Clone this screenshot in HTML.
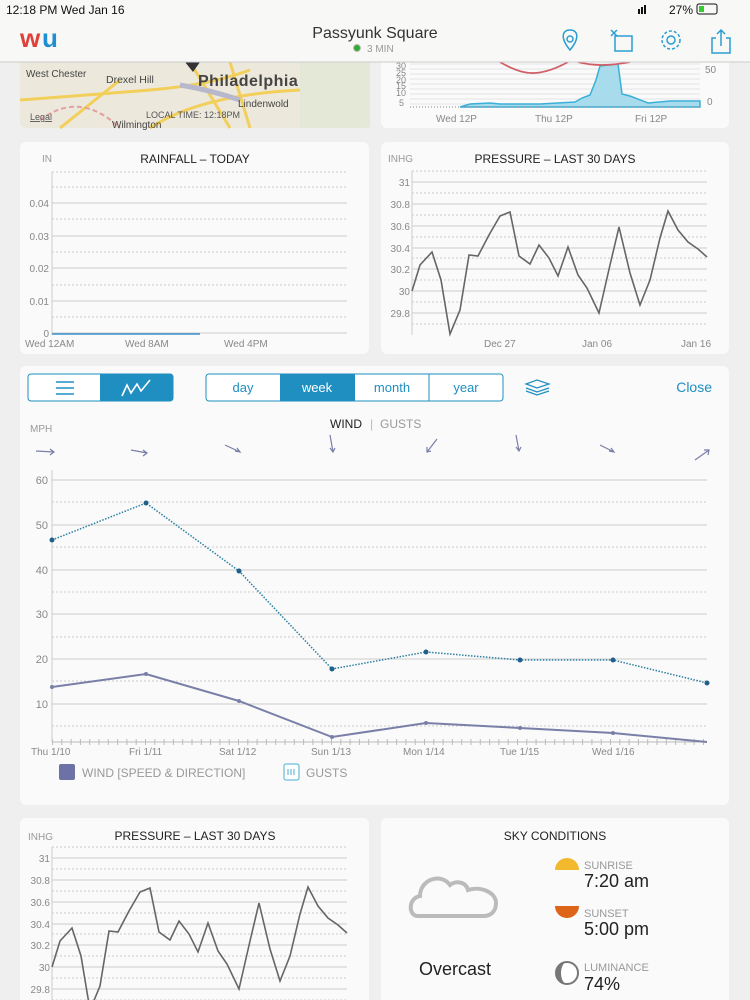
<!DOCTYPE html>
<html><head><meta charset="utf-8"><style>
html,body{margin:0;padding:0;background:#efefef;}
svg{display:block;font-family:"Liberation Sans",sans-serif;}
</style></head><body>
<svg width="750" height="1000" viewBox="0 0 750 1000" xmlns="http://www.w3.org/2000/svg">
<rect width="750" height="1000" fill="#efefef"/>
<!-- map card -->
<rect x="20" y="50" width="350" height="78" rx="6" fill="#ece8dc"/>
<g stroke="#f2cf5a" stroke-width="3" fill="none">
<path d="M20 100 Q90 95 150 90 T250 70"/><path d="M190 62 L230 128"/><path d="M230 62 L250 128"/><path d="M150 128 Q200 95 300 90"/><path d="M60 128 L120 80"/>
</g>
<path d="M40 120 Q80 90 120 128" stroke="#e4a0a0" stroke-width="2" stroke-dasharray="5 3" fill="none"/>
<path d="M180 85 Q210 90 240 100" stroke="#b7b8cc" stroke-width="5" fill="none"/>
<rect x="300" y="62" width="70" height="66" fill="#dfe8d4" opacity="0.6"/>
<text x="26" y="77" font-size="10" fill="#444">West Chester</text>
<text x="106" y="83" font-size="10.5" fill="#444">Drexel Hill</text>
<text x="198" y="86" font-size="16" font-weight="bold" fill="#444" letter-spacing="0.5">Philadelphia</text>
<text x="238" y="107" font-size="10" fill="#444">Lindenwold</text>
<text x="30" y="120" font-size="9" fill="#555" text-decoration="underline">Legal</text>
<text x="146" y="118" font-size="9" fill="#555">LOCAL TIME: 12:18PM</text>
<text x="112" y="128" font-size="10" fill="#444">Wilmington</text>
<path d="M185 62 L200 62 L193 72Z" fill="#333"/>
<!-- top right card -->
<rect x="381" y="50" width="348" height="78" rx="6" fill="#fafafa"/>
<g stroke="#ddd" stroke-width="0.7">
<line x1="410" y1="64" x2="700" y2="64"/><line x1="410" y1="69" x2="700" y2="69"/><line x1="410" y1="74" x2="700" y2="74"/><line x1="410" y1="79" x2="700" y2="79"/><line x1="410" y1="84" x2="700" y2="84"/><line x1="410" y1="89" x2="700" y2="89"/><line x1="410" y1="94" x2="700" y2="94"/><line x1="410" y1="99" x2="700" y2="99"/><line x1="410" y1="104" x2="700" y2="104"/>
</g>
<path d="M460 107 L470 104 L490 103 L500 104 L540 104 L575 102 L582 98 L590 95 L596 80 L600 66 L618 64 L622 94 L630 96 L648 103 L670 101 L700 101 L700 107Z" fill="#a8dcec" stroke="#3ab0d8" stroke-width="1.5"/>
<path d="M500 62 Q520 74 535 73 Q550 72 568 62 M578 62 Q600 68 630 62" stroke="#d06068" stroke-width="1.8" fill="none"/>
<line x1="410" y1="107" x2="700" y2="107" stroke="#888" stroke-dasharray="1 2"/>
<text x="396" y="69" font-size="9" fill="#888">30</text><text x="396" y="76" font-size="9" fill="#888">25</text><text x="396" y="83" font-size="9" fill="#888">20</text><text x="396" y="89" font-size="9" fill="#888">15</text><text x="396" y="96" font-size="9" fill="#888">10</text><text x="399" y="106" font-size="9" fill="#888">5</text>
<text x="705" y="73" font-size="10" fill="#888">50</text><text x="707" y="105" font-size="10" fill="#888">0</text>
<text x="436" y="122" font-size="10" fill="#888">Wed 12P</text><text x="535" y="122" font-size="10" fill="#888">Thu 12P</text><text x="635" y="122" font-size="10" fill="#888">Fri 12P</text>
<!-- status + header -->
<rect x="0" y="0" width="750" height="62" fill="#f8f8f7"/>
<line x1="0" y1="62" x2="750" y2="62" stroke="#ccc"/>
<text x="6" y="14" font-size="12" fill="#111">12:18 PM   Wed Jan 16</text>
<text x="693" y="14" font-size="12" fill="#111" text-anchor="end">27%</text>
<rect x="697" y="4" width="20" height="10" rx="2" fill="none" stroke="#111"/><rect x="699" y="6" width="5" height="6" fill="#3c3"/>
<g fill="#111"><rect x="638" y="9" width="2" height="5"/><rect x="641" y="7" width="2" height="7"/><rect x="644" y="5" width="2" height="9"/></g>
<text x="20" y="47" font-size="26" font-weight="bold" fill="#e0403a">w</text><text x="42" y="47" font-size="26" font-weight="bold" fill="#1e8fd0">u</text>
<text x="375" y="38" font-size="16" fill="#333" text-anchor="middle">Passyunk Square</text>
<circle cx="357" cy="48" r="3.5" fill="#3a3" stroke="#bbb"/>
<text x="367" y="52" font-size="10" fill="#999">3 MIN</text>
<g stroke="#2a9ed0" stroke-width="1.5" fill="none">
<path d="M570 50 C560 38 562 30 570 30 C578 30 580 38 570 50Z"/><circle cx="570" cy="39" r="3"/>
<rect x="615" y="36" width="17" height="15"/><path d="M611 30 L617 36 M617 30 L611 36"/>
<circle cx="671" cy="40" r="9" stroke-dasharray="3 2"/><circle cx="671" cy="40" r="4"/>
<path d="M716 38 L712 38 L712 53 L730 53 L730 38 L726 38 M721 30 L721 46 M717 34 L721 30 L725 34"/>
</g>
<!-- rainfall card -->
<rect x="20" y="142" width="349" height="212" rx="6" fill="#fafafa"/>
<text x="42" y="162" font-size="10" fill="#999">IN</text>
<text x="195" y="163" font-size="12" fill="#222" text-anchor="middle">RAINFALL – TODAY</text>
<g stroke="#ccc" stroke-width="1"><line x1="52" y1="203" x2="347" y2="203"/><line x1="52" y1="236" x2="347" y2="236"/><line x1="52" y1="268" x2="347" y2="268"/><line x1="52" y1="301" x2="347" y2="301"/><line x1="52" y1="333" x2="347" y2="333"/></g>
<g stroke="#ccc" stroke-dasharray="2 2"><line x1="52" y1="187" x2="347" y2="187"/><line x1="52" y1="219" x2="347" y2="219"/><line x1="52" y1="252" x2="347" y2="252"/><line x1="52" y1="285" x2="347" y2="285"/><line x1="52" y1="317" x2="347" y2="317"/><line x1="52" y1="172" x2="347" y2="172"/></g>
<line x1="52" y1="172" x2="52" y2="335" stroke="#ccc"/>
<line x1="52" y1="334" x2="200" y2="334" stroke="#3a90c8" stroke-width="1.5"/>
<g font-size="10" fill="#888" text-anchor="end"><text x="49" y="207">0.04</text><text x="49" y="240">0.03</text><text x="49" y="272">0.02</text><text x="49" y="305">0.01</text><text x="49" y="337">0</text></g>
<g font-size="10" fill="#888"><text x="25" y="347">Wed 12AM</text><text x="125" y="347">Wed 8AM</text><text x="224" y="347">Wed 4PM</text></g>
<!-- pressure top -->
<rect x="381" y="142" width="348" height="212" rx="6" fill="#fafafa"/>
<text x="388" y="162" font-size="10" fill="#999">INHG</text>
<text x="555" y="163" font-size="12" fill="#222" text-anchor="middle">PRESSURE – LAST 30 DAYS</text>
<g id="pgrid">
<g stroke="#ccc"><line x1="412" y1="182" x2="707" y2="182"/><line x1="412" y1="204" x2="707" y2="204"/><line x1="412" y1="226" x2="707" y2="226"/><line x1="412" y1="248" x2="707" y2="248"/><line x1="412" y1="269" x2="707" y2="269"/><line x1="412" y1="291" x2="707" y2="291"/><line x1="412" y1="313" x2="707" y2="313"/></g>
<g stroke="#ccc" stroke-dasharray="2 2"><line x1="412" y1="171" x2="707" y2="171"/><line x1="412" y1="193" x2="707" y2="193"/><line x1="412" y1="215" x2="707" y2="215"/><line x1="412" y1="237" x2="707" y2="237"/><line x1="412" y1="258" x2="707" y2="258"/><line x1="412" y1="280" x2="707" y2="280"/><line x1="412" y1="302" x2="707" y2="302"/><line x1="412" y1="324" x2="707" y2="324"/></g>
<line x1="412" y1="171" x2="412" y2="335" stroke="#ccc"/>
<polyline fill="none" stroke="#666" stroke-width="1.6" points="412,291 420,265 432,252 441,280 450,334 460,310 469,255 478,256 489,235 500,216 510,212 519,256 530,264 539,245 549,258 558,276 568,247 578,275 587,288 599,313 610,265 619,227 630,273 640,305 650,280 660,238 668,211 678,230 688,242 698,249 707,257"/>
<g font-size="10" fill="#888" text-anchor="end"><text x="410" y="186">31</text><text x="410" y="208">30.8</text><text x="410" y="230">30.6</text><text x="410" y="252">30.4</text><text x="410" y="273">30.2</text><text x="410" y="295">30</text><text x="410" y="317">29.8</text></g>
</g>
<g font-size="10" fill="#888"><text x="484" y="347">Dec 27</text><text x="582" y="347">Jan 06</text><text x="681" y="347">Jan 16</text></g>
<!-- main card -->
<rect x="20" y="366" width="709" height="439" rx="6" fill="#fafafa"/>
<rect x="28" y="374" width="145" height="27" rx="3" fill="#fff" stroke="#1e8fc0"/>
<rect x="100" y="374" width="73" height="27" rx="3" fill="#1e8fc0"/><rect x="100" y="374" width="6" height="27" fill="#1e8fc0"/>
<g stroke="#1e8fc0" stroke-width="1.5"><line x1="56" y1="382" x2="74" y2="382"/><line x1="56" y1="388" x2="74" y2="388"/><line x1="56" y1="394" x2="74" y2="394"/></g>
<polyline points="122,396 127,385 131,393 137,384 141,391 150,380" fill="none" stroke="#fff" stroke-width="1.6"/>
<rect x="206" y="374" width="297" height="27" rx="3" fill="#fff" stroke="#1e8fc0"/>
<rect x="280" y="374" width="75" height="27" fill="#1e8fc0"/>
<line x1="429" y1="374" x2="429" y2="401" stroke="#1e8fc0"/>
<g font-size="13" text-anchor="middle"><text x="243" y="392" fill="#1e8fc0">day</text><text x="317" y="392" fill="#fff">week</text><text x="392" y="392" fill="#1e8fc0">month</text><text x="466" y="392" fill="#1e8fc0">year</text></g>
<g stroke="#1e8fc0" fill="none" stroke-width="1.2"><path d="M526 384 L537 380 L549 384 L537 388Z"/><path d="M526 388 L537 392 L549 388"/><path d="M526 391 L537 395 L549 391"/></g>
<text x="712" y="392" font-size="14" fill="#1e8fc0" text-anchor="end">Close</text>
<text x="30" y="432" font-size="10" fill="#999">MPH</text>
<text x="346" y="428" font-size="12" fill="#222" text-anchor="middle">WIND</text>
<text x="370" y="428" font-size="12" fill="#bbb">|</text>
<text x="380" y="428" font-size="12" fill="#999">GUSTS</text>
<g stroke="#7a7fa8" stroke-width="1.2" fill="none">
<path d="M36 451 L54 452 M50 449 L54 452 L50 455"/>
<path d="M131 450 L147 453 M143 450 L147 453 L143 456"/>
<path d="M225 445 L240 452 M235 451 L240 452 L237 448"/>
<path d="M330 435 L333 452 M330 448 L333 452 L335 448"/>
<path d="M437 439 L427 452 M427 447 L427 452 L431 451"/>
<path d="M516 435 L519 451 M516 447 L519 451 L521 447"/>
<path d="M600 445 L614 452 M609 451 L614 452 L611 448"/>
<path d="M695 460 L709 450 M704 450 L709 450 L708 455"/>
</g>
<g stroke="#ccc"><line x1="52" y1="480" x2="707" y2="480"/><line x1="52" y1="525" x2="707" y2="525"/><line x1="52" y1="570" x2="707" y2="570"/><line x1="52" y1="614" x2="707" y2="614"/><line x1="52" y1="659" x2="707" y2="659"/><line x1="52" y1="704" x2="707" y2="704"/></g>
<g stroke="#ccc" stroke-dasharray="2 2"><line x1="52" y1="502" x2="707" y2="502"/><line x1="52" y1="547" x2="707" y2="547"/><line x1="52" y1="592" x2="707" y2="592"/><line x1="52" y1="637" x2="707" y2="637"/><line x1="52" y1="681" x2="707" y2="681"/><line x1="52" y1="726" x2="707" y2="726"/></g>
<line x1="52" y1="742" x2="707" y2="742" stroke="#bbb"/>
<line x1="52" y1="742" x2="707" y2="742" stroke="#bbb" stroke-dasharray="1 8.3" stroke-width="6" transform="translate(0,0)"/>
<line x1="52" y1="470" x2="52" y2="742" stroke="#ccc"/>
<g font-size="11" fill="#888" text-anchor="end"><text x="48" y="484">60</text><text x="48" y="529">50</text><text x="48" y="574">40</text><text x="48" y="618">30</text><text x="48" y="663">20</text><text x="48" y="708">10</text></g>
<polyline fill="none" stroke="#2a7fa0" stroke-width="1.5" stroke-dasharray="1.5 1.5" points="52,540 146,503 239,571 332,669 426,652 520,660 613,660 707,683"/>
<g fill="#1f5f8b"><circle cx="52" cy="540" r="2.5"/><circle cx="146" cy="503" r="2.5"/><circle cx="239" cy="571" r="2.5"/><circle cx="332" cy="669" r="2.5"/><circle cx="426" cy="652" r="2.5"/><circle cx="520" cy="660" r="2.5"/><circle cx="613" cy="660" r="2.5"/><circle cx="707" cy="683" r="2.5"/></g>
<polyline fill="none" stroke="#7a7fa8" stroke-width="2" points="52,687 146,674 239,701 332,737 426,723 520,728 613,733 707,742"/>
<g fill="#7a7fa8"><circle cx="52" cy="687" r="2"/><circle cx="146" cy="674" r="2"/><circle cx="239" cy="701" r="2"/><circle cx="332" cy="737" r="2"/><circle cx="426" cy="723" r="2"/><circle cx="520" cy="728" r="2"/><circle cx="613" cy="733" r="2"/></g>
<g font-size="10" fill="#888"><text x="31" y="755">Thu 1/10</text><text x="129" y="755">Fri 1/11</text><text x="219" y="755">Sat 1/12</text><text x="311" y="755">Sun 1/13</text><text x="403" y="755">Mon 1/14</text><text x="500" y="755">Tue 1/15</text><text x="592" y="755">Wed 1/16</text></g>
<rect x="59" y="764" width="16" height="16" rx="2" fill="#6c72a6"/>
<text x="82" y="777" font-size="12" fill="#999">WIND [SPEED &amp; DIRECTION]</text>
<rect x="284" y="764" width="15" height="16" rx="2" fill="#fff" stroke="#4aaed0"/>
<g stroke="#4aaed0"><line x1="288" y1="769" x2="288" y2="775"/><line x1="291" y1="769" x2="291" y2="775"/><line x1="294" y1="769" x2="294" y2="775"/></g>
<text x="306" y="777" font-size="12" fill="#999">GUSTS</text>
<!-- bottom pressure -->
<rect x="20" y="818" width="349" height="200" rx="6" fill="#fafafa"/>
<text x="28" y="840" font-size="10" fill="#999">INHG</text>
<text x="195" y="840" font-size="12" fill="#222" text-anchor="middle">PRESSURE – LAST 30 DAYS</text>
<use href="#pgrid" transform="translate(-360,676)"/>
<!-- sky -->
<rect x="381" y="818" width="348" height="200" rx="6" fill="#fafafa"/>
<text x="555" y="840" font-size="12" fill="#222" text-anchor="middle">SKY CONDITIONS</text>
<path d="M418 916 C408 916 408 898 420 896 C420 880 440 872 450 885 C456 880 466 882 468 890 C480 886 496 892 496 903 C496 912 490 916 484 916Z" fill="none" stroke="#bbb" stroke-width="4"/>
<text x="455" y="975" font-size="18" fill="#222" text-anchor="middle">Overcast</text>
<path d="M555 870 A12 12 0 0 1 579 870Z" fill="#f2b82e"/>
<path d="M555 977 A12 12 0 0 1 579 977Z" fill="none"/>
<path d="M555 906 A12 12 0 0 0 579 906Z" fill="#dd6418"/>
<circle cx="567" cy="973" r="11" fill="#fff" stroke="#777" stroke-width="2"/><path d="M567 962 A11 11 0 0 0 567 984 A6 11 0 0 1 567 962Z" fill="#777"/>
<g fill="#999" font-size="11"><text x="584" y="869">SUNRISE</text><text x="584" y="917">SUNSET</text><text x="584" y="971">LUMINANCE</text></g>
<g fill="#222" font-size="18"><text x="584" y="887">7:20 am</text><text x="584" y="935">5:00 pm</text><text x="584" y="990">74%</text></g>
</svg>
</body></html>
